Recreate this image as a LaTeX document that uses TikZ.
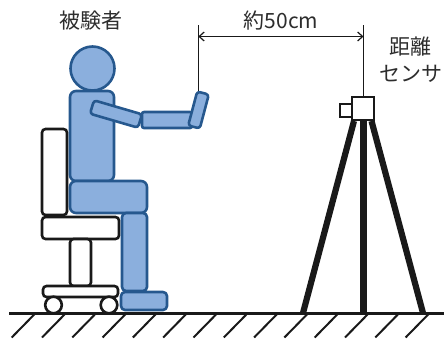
\documentclass[tikz,border=0pt]{standalone}
\usepackage{fontspec}
\newfontfamily\jpfont{Noto Sans CJK JP}
\usetikzlibrary{arrows.meta}
\definecolor{bodyfill}{RGB}{139,175,221}
\definecolor{bodyline}{RGB}{38,88,142}
\definecolor{labeltext}{RGB}{45,45,45}
\tikzset{
  bodypart/.style={draw=bodyline, fill=bodyfill, line width=2.6pt, rounded corners=6pt, line join=round},
  chairpart/.style={draw=black!90, fill=white, line width=2.6pt, rounded corners=3.5pt},
  label/.style={font=\jpfont\fontsize{21}{27}\selectfont, text=labeltext, inner sep=0pt, align=center},
  dimline/.style={line width=1.2pt, draw=black!90},
  tripodleg/.style={line width=6.2pt, draw=black!90},
  hatch/.style={line width=2pt, draw=black!90},
}
\begin{document}
\begin{tikzpicture}[x=1pt, y=-1pt]
  \useasboundingbox (0,0) rectangle (444,340);

  % chair
  \draw[chairpart] (42,129) rectangle (67,215);
  \draw[chairpart] (42,217) rectangle (119,239);
  \draw[chairpart] (70,239) rectangle (91,286);
  \draw[chairpart] (43,286) rectangle (118,297);
  \draw[chairpart] (53.5,305) circle[radius=8.3pt];
  \draw[chairpart] (109,305) circle[radius=8.3pt];

  % seated person
  \draw[bodypart] (70,91) rectangle (114,181);
  \draw[bodypart] (92.5,68.5) circle[radius=22pt];
  \draw[bodypart] (70,181) rectangle (147,213);
  \draw[bodypart, rounded corners=4pt] (122,213) rectangle (147,291);
  \draw[bodypart, rounded corners=4pt] (121,292) rectangle (167,310);
  \draw[bodypart, rounded corners=3pt] (94,100.3) -- (142,114.3) -- (138,127.7) -- (90,113.7) -- cycle;
  \draw[bodypart, rounded corners=2pt] (142,112) rectangle (192,128);
  \draw[bodypart, rounded corners=3pt] (188.2,125.5) -- (199.8,128.5) -- (208.8,94.5) -- (197.2,91.5) -- cycle;

  % distance sensor on tripod
  \draw[tripodleg] (354,121) -- (303,313);
  \draw[tripodleg] (363.5,121) -- (363.5,313);
  \draw[tripodleg] (371.5,121) -- (423,313);
  \draw[line width=2pt, draw=black!90, fill=white] (352,97) rectangle (374,120);
  \draw[line width=2pt, draw=black!90, fill=white] (340,103.5) rectangle (352,116.5);

  % ground
  \draw[line width=2.6pt, draw=black!90] (9,313.3) -- (444,313.3);
  \foreach \i in {0,...,13} {
    \draw[hatch] ({11.7+30.3*\i},337.5) -- ({35.2+30.3*\i},313.5);
  }

  % dimension between hand and sensor
  \coordinate (handtop) at (198.3,91);
  \coordinate (handref) at (198.3,25);
  \coordinate (sensortop) at (363.5,97);
  \coordinate (sensorref) at (363.5,25);
  \draw[dimline] (handref) -- (handtop);
  \draw[dimline] (sensorref) -- (sensortop);
  \coordinate (dimL) at (198.3,36.5);
  \coordinate (dimR) at (363.5,36.5);
  \draw[dimline, {Straight Barb[length=5pt,width=9pt]}-{Straight Barb[length=5pt,width=9pt]}] (dimL) -- (dimR);

  % labels
  \node[label] (subject) at (91,21) {被験者};
  \node[label] (distance) at (281,20.5) {約50cm};
  \node[label] (sensor) at (410.5,60) {距離\\センサ};
\end{tikzpicture}
\end{document}
